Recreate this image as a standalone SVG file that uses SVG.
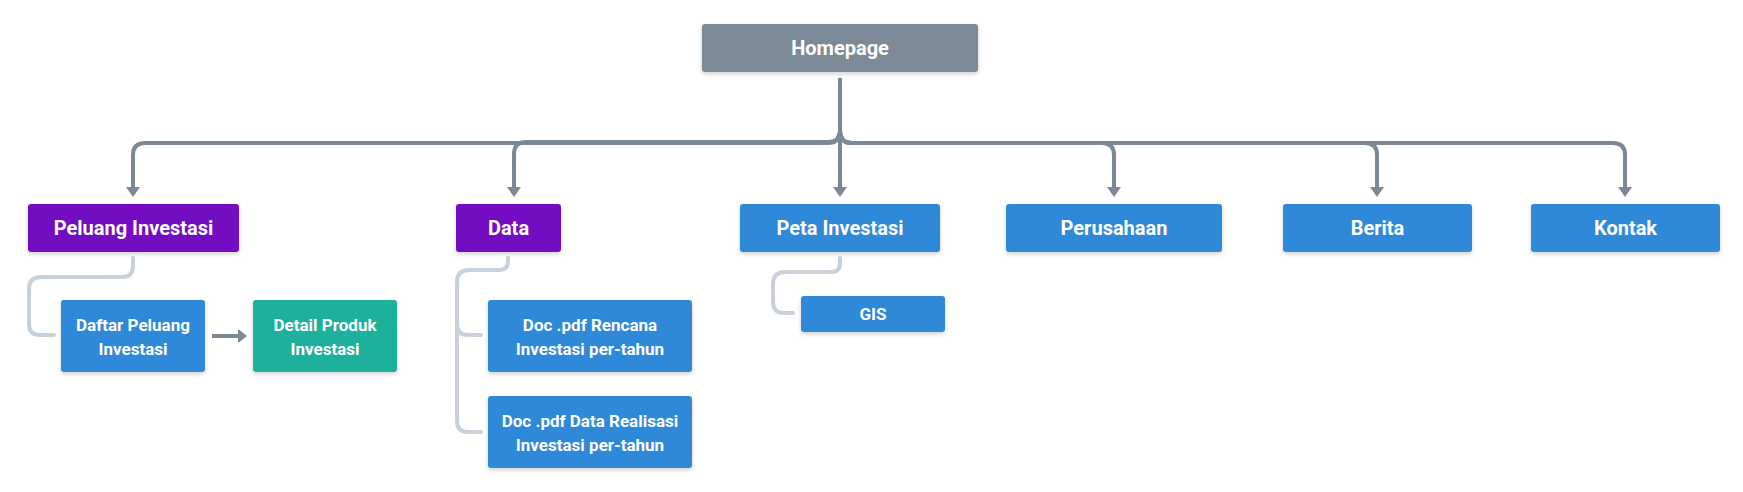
<svg xmlns="http://www.w3.org/2000/svg" width="1743" height="492" viewBox="0 0 1743 492">
<defs>
<filter id="sh" x="-10%" y="-20%" width="120%" height="150%">
<feDropShadow dx="0" dy="2" stdDeviation="2" flood-color="#000" flood-opacity="0.18"/>
</filter>
<marker id="ah" markerUnits="userSpaceOnUse" markerWidth="10" markerHeight="14" viewBox="0 0 10 14" refX="3" refY="7" orient="auto">
<path d="M0,0 L10,7 L0,14 z" fill="#7b8996"/>
</marker>
<marker id="ah2" markerUnits="userSpaceOnUse" markerWidth="9" markerHeight="14" viewBox="0 0 9 14" refX="2" refY="7" orient="auto">
<path d="M0,0 L9,7 L0,14 z" fill="#7b8996"/>
</marker>
</defs>
<style>
.box{filter:url(#sh)}
.gray{fill:#7b8996}
.purple{fill:#7311c1}
.blue{fill:#2d89d9}
.teal{fill:#1bb09d}
.t{font-family:Roboto,"Liberation Sans",sans-serif;font-weight:bold;fill:#ffffff;text-anchor:middle}
.t20{font-size:20px}
.t17{font-size:17px}
.main{fill:none;stroke:#7b8996;stroke-width:4}
.sub{fill:none;stroke:#c7d1db;stroke-width:4;stroke-linecap:round}
</style>
<g id="connectors">
<path class="main" d="M840,78 V131 Q840,143 828,143 H145 Q133,143 133,155 V190" marker-end="url(#ah)"/>
<path class="main" d="M840,78 V130 Q840,142 828,142 H526 Q514,142 514,154 V190" marker-end="url(#ah)"/>
<path class="main" d="M840,78 V190" marker-end="url(#ah)"/>
<path class="main" d="M840,78 V131 Q840,143 852,143 H1102 Q1114,143 1114,155 V190" marker-end="url(#ah)"/>
<path class="main" d="M840,78 V131 Q840,143 852,143 H1365 Q1377,143 1377,155 V190" marker-end="url(#ah)"/>
<path class="main" d="M840,78 V131 Q840,143 852,143 H1613 Q1625,143 1625,155 V190" marker-end="url(#ah)"/>
<path class="main" d="M212,336 H240" stroke-width="5" marker-end="url(#ah2)"/>
<path class="sub" d="M133,258 V266 Q133,277 122,277 H41 Q29,277 29,289 V324 Q29,335 40,335 H54"/>
<path class="sub" d="M508,258 V261 Q508,270 499,270 H469 Q457,270 457,282 V324 Q457,335 468,335 H481"/>
<path class="sub" d="M457,324 V421 Q457,432 468,432 H481"/>
<path class="sub" d="M840,258 V263 Q840,272 831,272 H785 Q773,272 773,284 V302 Q773,313 784,313 H793"/>
</g>
<g id="homepage"><rect class="box gray" x="702" y="24" width="276" height="48" rx="3"/><text class="t t20" x="840" y="55">Homepage</text></g>
<g id="peluang"><rect class="box purple" x="28" y="204" width="211" height="48" rx="3"/><text class="t t20" x="133.5" y="235">Peluang Investasi</text></g>
<g id="data"><rect class="box purple" x="456" y="204" width="105" height="48" rx="3"/><text class="t t20" x="508.5" y="235">Data</text></g>
<g id="peta"><rect class="box blue" x="740" y="204" width="200" height="48" rx="3"/><text class="t t20" x="840" y="235">Peta Investasi</text></g>
<g id="perusahaan"><rect class="box blue" x="1006" y="204" width="216" height="48" rx="3"/><text class="t t20" x="1114" y="235">Perusahaan</text></g>
<g id="berita"><rect class="box blue" x="1283" y="204" width="189" height="48" rx="3"/><text class="t t20" x="1377.5" y="235">Berita</text></g>
<g id="kontak"><rect class="box blue" x="1531" y="204" width="189" height="48" rx="3"/><text class="t t20" x="1625.5" y="235">Kontak</text></g>
<g id="daftar"><rect class="box blue" x="61" y="300" width="144" height="72" rx="3"/><text class="t t17" x="133" y="331">Daftar Peluang</text><text class="t t17" x="133" y="355">Investasi</text></g>
<g id="detail"><rect class="box teal" x="253" y="300" width="144" height="72" rx="3"/><text class="t t17" x="325" y="331">Detail Produk</text><text class="t t17" x="325" y="355">Investasi</text></g>
<g id="doc1"><rect class="box blue" x="488" y="300" width="204" height="72" rx="3"/><text class="t t17" x="590" y="331">Doc .pdf Rencana</text><text class="t t17" x="590" y="355">Investasi per-tahun</text></g>
<g id="doc2"><rect class="box blue" x="488" y="396" width="204" height="72" rx="3"/><text class="t t17" x="590" y="427">Doc .pdf Data Realisasi</text><text class="t t17" x="590" y="451">Investasi per-tahun</text></g>
<g id="gis"><rect class="box blue" x="801" y="296" width="144" height="36" rx="3"/><text class="t t17" x="873" y="320">GIS</text></g>
</svg>
